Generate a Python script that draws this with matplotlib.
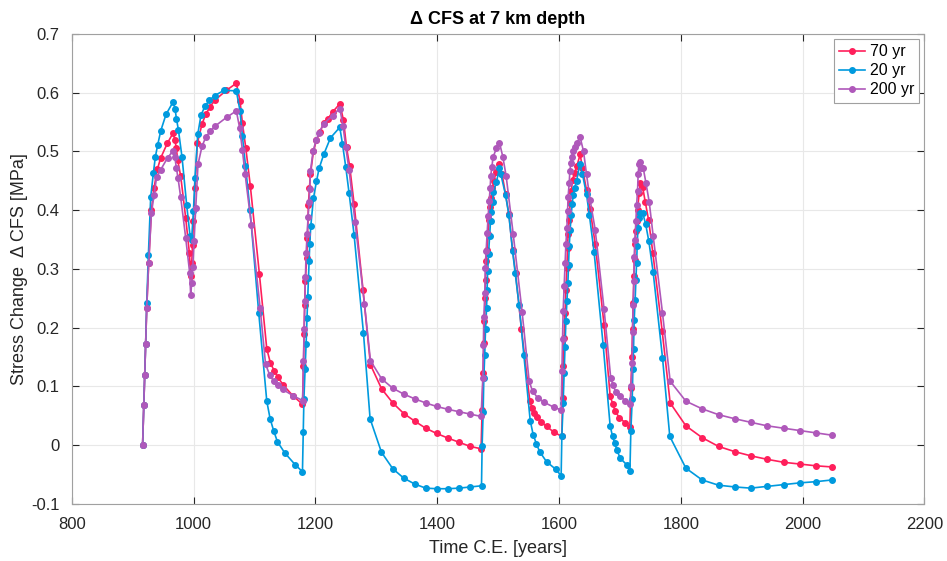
import matplotlib
matplotlib.use("Agg")
import matplotlib.pyplot as plt

plt.rcParams['font.family'] = ['Liberation Sans', 'DejaVu Sans']

# 70 yr
t_70 = [916, 918, 919.5, 921, 922.8, 926, 930.5, 934.8, 940.3, 945.8, 956.7, 966, 969, 971.5, 973.7,
        978.6, 986.8, 992.9, 995, 996.7, 998, 999.5, 1002, 1006, 1013.7, 1019.7, 1026.8, 1034.5, 1053.7,
        1070, 1076, 1080, 1085.5, 1093, 1107.8, 1120, 1126, 1132, 1138, 1146.7, 1163, 1178.6,
        1180.3, 1181.3, 1182.2, 1183.2, 1185.7, 1186.8, 1188.4, 1190, 1191.7, 1196.6, 1201.6, 1207, 1213.6,
        1220, 1228, 1240, 1246, 1251, 1256, 1263.4, 1278, 1290.3, 1308.6, 1327, 1345, 1363, 1381, 1399,
        1418, 1436, 1454, 1472,
        1473.7, 1475.4, 1476.5, 1477.6, 1478.7, 1479.5, 1480.3, 1482, 1483.6, 1485.3, 1486.9, 1488.5,
        1490.1, 1492.9, 1496.7, 1502.2, 1506.6, 1512.2, 1517.6, 1523.7, 1528.6, 1538.4, 1552, 1555.4,
        1559.2, 1563.6, 1570, 1579.5, 1592, 1604.7,
        1605.8, 1606.8, 1608.5, 1610, 1611.3, 1613, 1614, 1615, 1616.8, 1618.3, 1620, 1622.3, 1625.5,
        1629.3, 1634.8, 1638.6, 1645.2, 1651, 1659.4, 1674, 1684, 1688, 1692.3, 1699, 1709, 1716.4,
        1718, 1719.7, 1720.8, 1721.8, 1723, 1724.1, 1725.1, 1726.3, 1727.4, 1729, 1731.8, 1733.5, 1737.3,
        1741.7, 1747.2, 1754.2, 1769.5, 1782.6, 1808.4, 1835, 1862, 1889, 1915, 1942, 1969, 1996, 2022, 2049]
cfs_70 = [0, 0.068, 0.12, 0.172, 0.234, 0.31, 0.4, 0.438, 0.47, 0.489, 0.514, 0.531, 0.52, 0.505, 0.485,
          0.458, 0.387, 0.327, 0.288, 0.31, 0.34, 0.381, 0.438, 0.514, 0.547, 0.563, 0.576, 0.587, 0.604,
          0.616, 0.586, 0.548, 0.506, 0.441, 0.292, 0.164, 0.14, 0.127, 0.116, 0.103, 0.084, 0.07,
          0.135, 0.19, 0.239, 0.279, 0.319, 0.353, 0.409, 0.437, 0.461, 0.5, 0.519, 0.533, 0.548,
          0.555, 0.567, 0.581, 0.553, 0.507, 0.476, 0.411, 0.265, 0.137, 0.096, 0.072, 0.054, 0.041, 0.029, 0.02,
          0.012, 0.005, -0.002, -0.006,
          0.06, 0.123, 0.174, 0.211, 0.251, 0.282, 0.313, 0.333, 0.359, 0.384, 0.405, 0.421,
          0.437, 0.449, 0.465, 0.478, 0.461, 0.427, 0.394, 0.333, 0.293, 0.197, 0.076, 0.063,
          0.055, 0.048, 0.04, 0.032, 0.022, 0.015,
          0.08, 0.134, 0.183, 0.225, 0.265, 0.302, 0.336, 0.359, 0.384, 0.413, 0.432, 0.452, 0.464,
          0.475, 0.495, 0.471, 0.434, 0.402, 0.343, 0.205, 0.084, 0.071, 0.058, 0.047, 0.038, 0.031,
          0.097, 0.151, 0.198, 0.242, 0.288, 0.316, 0.342, 0.364, 0.381, 0.401, 0.43, 0.447, 0.44,
          0.414, 0.383, 0.327, 0.194, 0.072, 0.033, 0.013, -0.002, -0.011, -0.018, -0.024, -0.029, -0.032, -0.035, -0.037]

# 20 yr
t_20 = [916, 918, 919.5, 921, 922.8, 925.5, 929.3, 933.8, 937, 940.8, 945.8, 954.5, 966, 969.3, 971.5,
        974.8, 980.8, 988.5, 994, 996.5, 999.5, 1002, 1006.6, 1012, 1018.6, 1025.8, 1034.5, 1049.8, 1070,
        1076, 1080, 1085, 1092.5, 1106.8, 1120, 1125.5, 1131.5, 1137.5, 1149.5, 1166.5, 1178.6,
        1180, 1181, 1183, 1184.6, 1186.2, 1187.3, 1188.4, 1189.5, 1190.6, 1192.3, 1196.6, 1201.6, 1205.9,
        1213.6, 1224.6, 1239.9, 1244.3, 1249.8, 1255.2, 1263.4, 1278.8, 1289.7, 1308.4, 1327, 1345, 1363,
        1381, 1399, 1418, 1436, 1454, 1472.7,
        1473.7, 1475.4, 1476.5, 1478, 1479.3, 1481, 1482, 1482.8, 1484.3, 1486, 1487.5, 1489, 1490.8,
        1492.4, 1497.3, 1502.2, 1504.5, 1512.2, 1517.6, 1523.7, 1528, 1534.5, 1542.3, 1552.7, 1557.6,
        1563, 1568.3, 1579.5, 1594.8, 1603.5,
        1604.7, 1606.8, 1608.5, 1610, 1611.3, 1613, 1614.6, 1615.7, 1616.8, 1618.3, 1620, 1621.6, 1623.3,
        1625.5, 1628.8, 1634.2, 1638.6, 1645.2, 1650, 1657.7, 1672.5, 1684, 1688, 1691.3, 1695, 1700.5,
        1711, 1716.5,
        1718, 1720.3, 1721.3, 1722.4, 1723.5, 1725.1, 1726.3, 1727.4, 1728.5, 1729.6, 1730.7, 1732.9,
        1737.3, 1742.2, 1747.6, 1754.7, 1770, 1782, 1808.4, 1835, 1862, 1889, 1915, 1942, 1969, 1996, 2022, 2049]
cfs_20 = [0, 0.068, 0.12, 0.172, 0.242, 0.323, 0.422, 0.464, 0.491, 0.511, 0.535, 0.563, 0.584, 0.573, 0.556,
          0.537, 0.49, 0.408, 0.356, 0.35, 0.398, 0.454, 0.529, 0.562, 0.577, 0.587, 0.595, 0.604, 0.603,
          0.569, 0.526, 0.476, 0.4, 0.225, 0.075, 0.045, 0.024, 0.006, -0.013, -0.033, -0.045,
          0.023, 0.079, 0.13, 0.173, 0.217, 0.252, 0.284, 0.314, 0.343, 0.373, 0.42, 0.449, 0.471,
          0.495, 0.523, 0.541, 0.513, 0.473, 0.429, 0.358, 0.191, 0.045, -0.012, -0.04, -0.056, -0.066,
          -0.073, -0.074, -0.074, -0.073, -0.071, -0.069,
          -0.002, 0.057, 0.114, 0.154, 0.197, 0.233, 0.265, 0.296, 0.326, 0.356, 0.381, 0.397, 0.414,
          0.431, 0.448, 0.472, 0.461, 0.426, 0.392, 0.331, 0.293, 0.238, 0.153, 0.042, 0.018,
          0.002, -0.011, -0.028, -0.041, -0.052,
          0.016, 0.072, 0.123, 0.167, 0.211, 0.245, 0.276, 0.307, 0.339, 0.367, 0.391, 0.41, 0.425,
          0.438, 0.449, 0.479, 0.461, 0.427, 0.391, 0.328, 0.171, 0.033, 0.015, 0.004, -0.008, -0.022,
          -0.033, -0.044,
          0.024, 0.079, 0.129, 0.163, 0.213, 0.248, 0.281, 0.31, 0.339, 0.37, 0.386, 0.396,
          0.396, 0.377, 0.347, 0.294, 0.149, 0.015, -0.039, -0.059, -0.068, -0.071, -0.073, -0.07, -0.067, -0.064, -0.062, -0.059]

# 200 yr
t_200 = [916, 918, 919.5, 921, 922.8, 926, 930.5, 934.6, 939, 945.8, 957, 966, 969, 971.5, 974.3,
         978.6, 986.8, 993.4, 995, 996.7, 998.4, 1000.5, 1003.3, 1007, 1013.7, 1019.7, 1026.8, 1035, 1054,
         1070, 1075.6, 1080, 1084.3, 1094.8, 1109, 1118, 1125, 1131.5, 1138, 1146, 1163.8, 1179,
         1180.2, 1181.3, 1182.4, 1183.5, 1184.6, 1186.3, 1187.8, 1189.5, 1190.6, 1191.7, 1196, 1201, 1206,
         1213.6, 1228, 1240, 1245.3, 1249.8, 1255.2, 1265, 1280.5, 1290.3, 1308.6, 1327, 1345, 1363, 1381,
         1399, 1418, 1436, 1454, 1472,
         1474.9, 1475.7, 1476.5, 1478.2, 1478.7, 1480.3, 1482, 1483.6, 1485.3, 1486.9, 1488, 1489.6,
         1491.8, 1497.3, 1502.2, 1507.7, 1513.2, 1524.7, 1539.5, 1551, 1556.5, 1564.7, 1575.6, 1591, 1603.5,
         1604.7, 1605.8, 1606.8, 1608.5, 1610, 1611.3, 1613, 1614, 1615, 1616.8, 1617.8, 1619.5, 1621.2,
         1623.3, 1626, 1629.3, 1634.8, 1640.3, 1645.2, 1651, 1659.4, 1674, 1685, 1689, 1693.4, 1700, 1709, 1717,
         1718.5, 1720.3, 1720.8, 1721.8, 1723, 1723.5, 1724.6, 1726.3, 1727.4, 1729, 1730, 1731.2, 1732.9,
         1734.5, 1738.3, 1742.7, 1748.2, 1754.7, 1770, 1782.6, 1808.4, 1835, 1862, 1889, 1915, 1942, 1969,
         1996, 2022, 2049]
cfs_200 = [0, 0.068, 0.12, 0.172, 0.234, 0.31, 0.395, 0.425, 0.456, 0.469, 0.489, 0.501, 0.49, 0.472, 0.454,
           0.422, 0.353, 0.293, 0.255, 0.276, 0.303, 0.347, 0.404, 0.478, 0.509, 0.524, 0.534, 0.543, 0.558,
           0.569, 0.539, 0.502, 0.462, 0.374, 0.234, 0.138, 0.119, 0.109, 0.102, 0.095, 0.084, 0.076,
           0.143, 0.198, 0.245, 0.287, 0.327, 0.359, 0.388, 0.414, 0.436, 0.466, 0.5, 0.519, 0.532,
           0.547, 0.561, 0.573, 0.543, 0.507, 0.468, 0.38, 0.24, 0.144, 0.113, 0.097, 0.087, 0.079, 0.072,
           0.066, 0.061, 0.057, 0.053, 0.049,
           0.114, 0.171, 0.218, 0.259, 0.301, 0.33, 0.361, 0.39, 0.415, 0.438, 0.459, 0.473,
           0.491, 0.505, 0.515, 0.491, 0.458, 0.36, 0.226, 0.109, 0.092, 0.081, 0.073, 0.065, 0.06,
           0.126, 0.18, 0.228, 0.271, 0.31, 0.342, 0.37, 0.398, 0.423, 0.447, 0.466, 0.481, 0.491,
           0.5, 0.507, 0.515, 0.524, 0.5, 0.461, 0.418, 0.367, 0.232, 0.114, 0.102, 0.09, 0.083, 0.076, 0.071,
           0.1, 0.14, 0.192, 0.239, 0.28, 0.32, 0.35, 0.381, 0.408, 0.432, 0.461, 0.478, 0.482,
           0.472, 0.472, 0.447, 0.414, 0.356, 0.225, 0.109, 0.075, 0.062, 0.052, 0.045, 0.039, 0.033, 0.029,
           0.025, 0.021, 0.017]

labels = ['70 yr', '20 yr', '200 yr']
colors = ['#FF1F5B', '#009ADE', '#AF58BA']

fig = plt.figure(figsize=(9.47, 5.61), dpi=100)
ax = fig.add_axes([0.076, 0.1016, 0.9, 0.838])

for t, v, lab, c in zip([t_70, t_20, t_200], [cfs_70, cfs_20, cfs_200], labels, colors):
    ax.plot(t, v, '-o', color=c, lw=1.2, ms=4, label=lab)

ax.set_xlim(800, 2200)
ax.set_ylim(-0.1, 0.7)
ax.set_xticks(range(800, 2201, 200))
ax.set_yticks([-0.1, 0, 0.1, 0.2, 0.3, 0.4, 0.5, 0.6, 0.7])
ax.set_yticklabels(['-0.1', '0', '0.1', '0.2', '0.3', '0.4', '0.5', '0.6', '0.7'])
ax.grid(True, color='#e8e8e8', lw=0.8)
ax.set_axisbelow(True)
ax.tick_params(direction='in', length=5, labelsize=12, colors='#262626', top=True, right=True,
               labeltop=False, labelright=False)
ax.tick_params(axis='x', pad=9)
ax.tick_params(axis='y', pad=9)
for s in ax.spines.values():
    s.set_color('#a0a0a0')
    s.set_linewidth(0.8)

ax.set_title('Δ CFS at 7 km depth', fontsize=13, fontweight='bold', pad=7)
ax.set_xlabel('Time C.E. [years]', fontsize=13, color='#262626', labelpad=6)
ax.set_ylabel('Stress Change  Δ CFS [MPa]', fontsize=13, color='#262626', labelpad=2)

leg = ax.legend(loc='upper right', fontsize=11.5, handlelength=1.6, handletextpad=0.3,
                borderpad=0.35, labelspacing=0.25, fancybox=False, framealpha=1,
                borderaxespad=0.3)
leg.get_frame().set_edgecolor('#a0a0a0')
leg.get_frame().set_linewidth(0.8)

fig.savefig('out.png', dpi=100)
